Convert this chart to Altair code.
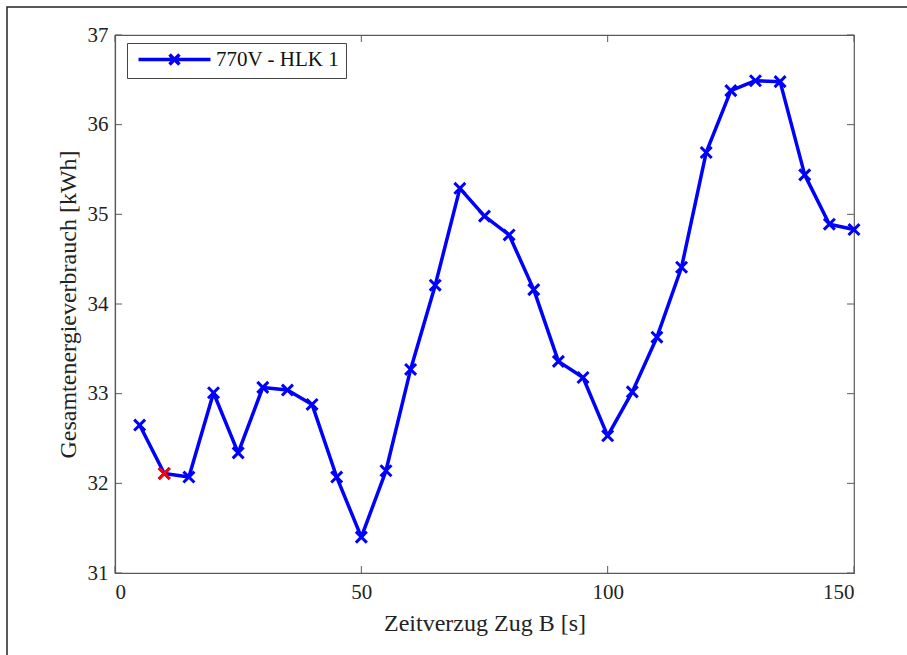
import altair as alt
import pandas as pd

# Data
delay_s = [5, 10, 15, 20, 25, 30, 35, 40, 45, 50, 55, 60, 65, 70, 75,
           80, 85, 90, 95, 100, 105, 110, 115, 120, 125, 130, 135, 140, 145, 150]
energy_kwh = [32.65, 32.11, 32.07, 33.01, 32.34, 33.07, 33.04, 32.88, 32.07, 31.40,
              32.14, 33.27, 34.21, 35.29, 34.98, 34.77, 34.16, 33.36, 33.18, 32.53,
              33.02, 33.63, 34.41, 35.69, 36.38, 36.49, 36.48, 35.44, 34.89, 34.83]
series_name = "770V - HLK 1"
highlight_delay = [10]
highlight_energy = [32.11]

x_ticks = [0, 50, 100, 150]
y_ticks = [31, 32, 33, 34, 35, 36, 37]

W, H = 739, 538
FONT = "Liberation Serif"
AXIS_COLOR = "#5a5a5a"
BLUE = "#0000ff"

df = pd.DataFrame({"x": delay_s, "y": energy_kwh, "s": [series_name] * len(delay_s)})
df_hi = pd.DataFrame({"x": highlight_delay, "y": highlight_energy})
df_xt = pd.DataFrame({"xt": x_ticks})
df_yt = pd.DataFrame({"yt": y_ticks})
df_one = pd.DataFrame({"a": [0]})

xs = alt.Scale(domain=[0, 150], nice=False, zero=False)
ys = alt.Scale(domain=[31, 37], nice=False, zero=False)

axis_style = dict(ticks=False, grid=False, format="d",
                  labelFont=FONT, labelFontSize=21, labelColor="#222222",
                  titleFont=FONT, titleFontSize=24, titleColor="#222222",
                  titleFontWeight="normal", domainColor=AXIS_COLOR, domainWidth=1.2)
x_axis = alt.Axis(values=x_ticks, title="Zeitverzug Zug B [s]",
                  labelPadding=8, titlePadding=9, **axis_style)
y_axis = alt.Axis(values=y_ticks, title="Gesamtenergieverbrauch [kWh]",
                  labelPadding=7, titlePadding=7, **axis_style)

cross_path = "M-1,-1L1,1M-1,1L1,-1"
# legend symbol: long line with an x marker in the middle (r = 7 px per unit)
legend_path = "M-5.14,0H5.14M-0.71,-0.71L0.71,0.71M-0.71,0.71L0.71,-0.71"

frame = alt.Chart(df_one).mark_rect(fill="transparent", stroke="#222222",
                                    strokeWidth=1.5).encode(
    x=alt.value(-108), x2=alt.value(1000), y=alt.value(-28), y2=alt.value(800))

tick_bottom = alt.Chart(df_xt).mark_rule(color=AXIS_COLOR, strokeWidth=1).encode(
    x=alt.X("xt:Q", scale=xs, axis=x_axis), y=alt.value(H), y2=alt.value(H - 7))
tick_top = alt.Chart(df_xt).mark_rule(color=AXIS_COLOR, strokeWidth=1).encode(
    x=alt.X("xt:Q", scale=xs), y=alt.value(0), y2=alt.value(7))
tick_left = alt.Chart(df_yt).mark_rule(color=AXIS_COLOR, strokeWidth=1).encode(
    y=alt.Y("yt:Q", scale=ys, axis=y_axis), x=alt.value(0), x2=alt.value(7))
tick_right = alt.Chart(df_yt).mark_rule(color=AXIS_COLOR, strokeWidth=1).encode(
    y=alt.Y("yt:Q", scale=ys), x=alt.value(W), x2=alt.value(W - 7))

line = alt.Chart(df).mark_line(strokeWidth=3.5, strokeJoin="round").encode(
    x=alt.X("x:Q", scale=xs, axis=x_axis),
    y=alt.Y("y:Q", scale=ys, axis=y_axis),
    stroke=alt.Stroke("s:N", scale=alt.Scale(domain=[series_name], range=[BLUE]),
                      legend=alt.Legend(
                          title=None, orient="none", legendX=12, legendY=8,
                          symbolType=legend_path, symbolSize=196,
                          symbolOffset=31,
                          symbolStrokeWidth=3.5, symbolFillColor="transparent",
                          symbolStrokeColor=BLUE,
                          labelFont=FONT, labelFontSize=21, labelColor="#111111",
                          labelOffset=31, padding=6,
                          strokeColor="#444444", fillColor="white")),
)

points = alt.Chart(df).mark_point(shape=cross_path, size=120, strokeWidth=3,
                                  color=BLUE, filled=False, opacity=1).encode(
    x=alt.X("x:Q", scale=xs), y=alt.Y("y:Q", scale=ys))

hi = alt.Chart(df_hi).mark_point(shape=cross_path, size=120, strokeWidth=3,
                                 color="#ff0000", filled=False, opacity=1).encode(
    x=alt.X("x:Q", scale=xs), y=alt.Y("y:Q", scale=ys))

chart = alt.layer(frame, tick_bottom, tick_top, tick_left, tick_right, line, points, hi).properties(
    width=W, height=H,
    autosize=alt.AutoSizeParams(type="none"),
    padding={"left": 115, "top": 35, "right": 53, "bottom": 82},
    background="white",
).configure(
    font=FONT
).configure_view(
    stroke=AXIS_COLOR, strokeWidth=1.2
).configure_axis(
    labelFont=FONT, titleFont=FONT
).configure_legend(
    labelFont=FONT
)

chart.save("out.html", embed_options={"renderer": "svg", "actions": False})
